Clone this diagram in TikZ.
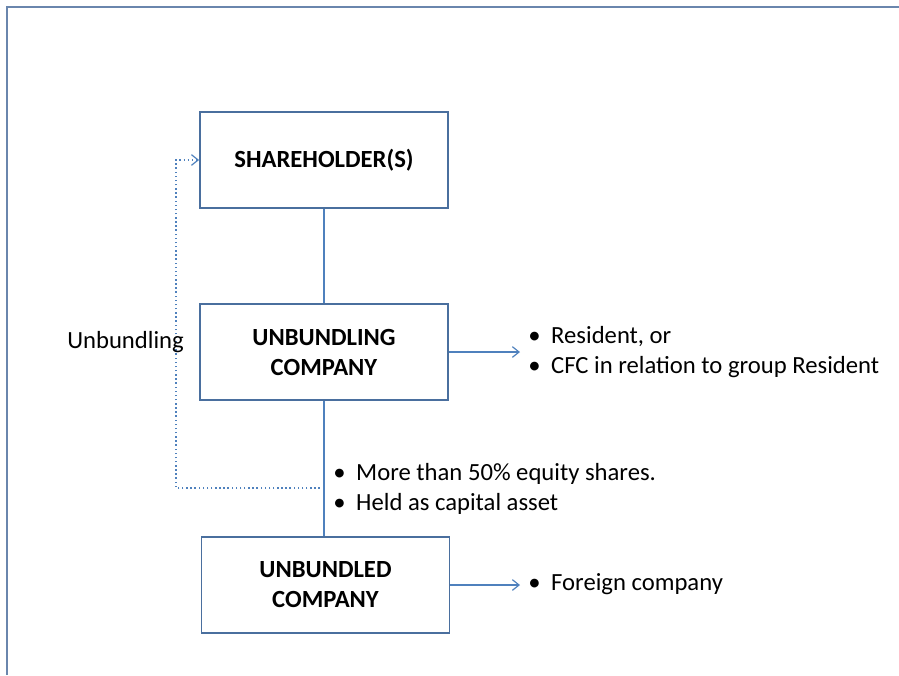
\documentclass[tikz,border=0pt]{standalone}
\usepackage{fontspec}
\setmainfont{Carlito}
\usetikzlibrary{arrows.meta}
\definecolor{boxline}{HTML}{4A6F9E}
\definecolor{conn}{HTML}{4F81BD}
\definecolor{frame}{HTML}{6A86AD}
\begin{document}
\begin{tikzpicture}[x=0.75pt,y=-0.75pt,
  box/.style={draw=boxline,line width=1.4pt,minimum width=186pt,minimum height=72pt,align=center,font=\fontsize{18.5}{22.5}\selectfont\bfseries,inner sep=0pt},
  lbl/.style={font=\fontsize{18.5}{22.5}\selectfont,align=left,anchor=west,inner sep=0pt},
  conline/.style={draw=conn,line width=1.1pt},
  arr/.style={conline,shorten >=6pt,-{Straight Barb[length=5pt,width=8pt,line width=0.9pt]}}]
\useasboundingbox (0,0) rectangle (899,675);
\coordinate (f1) at (7,675);
\coordinate (f2) at (7,7);
\coordinate (f3) at (899,7);
\draw[frame,line width=1.5pt] (f1) -- (f2) -- (f3);
\node[box] (sh) at (324,160) {SHAREHOLDER(S)};
\node[box] (ug) at (324,352) {UNBUNDLING\\COMPANY};
\node[box] (ud) at (325.5,585) {UNBUNDLED\\COMPANY};
\draw[conline] (sh.south) -- (ug.north);
\draw[conline] (ug.south) -- (ug.south |- ud.north);
\coordinate (j) at (324,488);
\coordinate (dl) at (176,488);
\draw[conn,line width=1.1pt,dotted,-{Straight Barb[length=5pt,width=8pt,line width=0.9pt]}] (j) -- (dl) |- (sh.west);
\node[lbl] (ub) at (67,342) {Unbundling};
\node[lbl] (r1) at (528,352) {•\hspace{8pt}Resident, or\\•\hspace{8pt}CFC in relation to group Resident};
\draw[arr] (ug.east) -- (ug.east -| r1.west);
\node[lbl] (m1) at (333,489) {•\hspace{8pt}More than 50\% equity shares.\\•\hspace{8pt}Held as capital asset};
\node[lbl] (fc) at (528,584) {•\hspace{8pt}Foreign company};
\draw[arr] (ud.east) -- (ud.east -| fc.west);
\end{tikzpicture}
\end{document}
